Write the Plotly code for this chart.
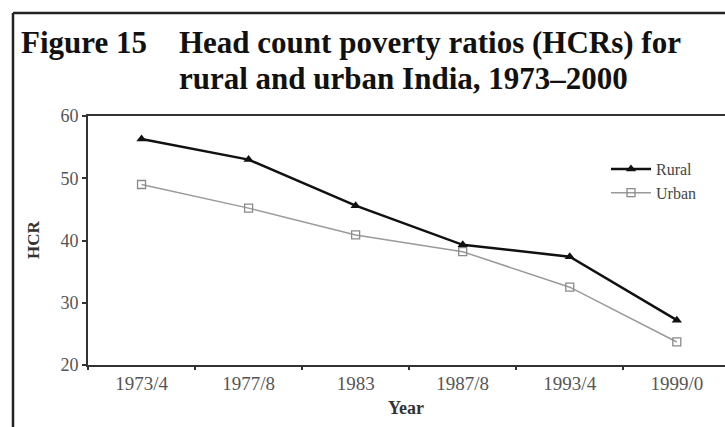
import plotly.graph_objects as go

years = ["1973/4", "1977/8", "1983", "1987/8", "1993/4", "1999/0"]
rural = [56.3, 53.0, 45.6, 39.3, 37.4, 27.2]
urban = [49.0, 45.2, 40.9, 38.2, 32.5, 23.7]
y_ticks = [20, 30, 40, 50, 60]

W, H = 725, 427
L, T, B, R = 88, 116, 62, 0
pw = W - L - R
ph = H - T - B

def px(x):
    return (x - L) / pw

def py(y):
    return (H - B - y) / ph

SERIF = "Liberation Serif, Times New Roman, serif"

fig = go.Figure()
fig.add_trace(go.Scatter(
    x=years, y=rural, name="Rural", mode="lines+markers",
    line=dict(color="#111111", width=2.5),
    marker=dict(symbol="triangle-up", size=9, color="#111111"),
))
fig.add_trace(go.Scatter(
    x=years, y=urban, name="Urban", mode="lines+markers",
    line=dict(color="#9a9a9a", width=1.5),
    marker=dict(symbol="square-open", size=8, color="#8a8a8a", line=dict(width=1.3)),
))

fig.update_layout(
    width=W, height=H,
    margin=dict(l=L, r=R, t=T, b=B),
    paper_bgcolor="white", plot_bgcolor="white",
    font=dict(family=SERIF, color="#444444"),
    showlegend=True,
    legend=dict(x=px(606), y=py(152), xanchor="left", yanchor="top",
                font=dict(size=16, color="#444444", family=SERIF),
                bgcolor="rgba(0,0,0,0)", tracegroupgap=0, itemwidth=40),
    xaxis=dict(type="category", range=[-0.5, 5.45], showgrid=False, zeroline=False,
               showline=True, linecolor="#333333", linewidth=2, mirror=True,
               ticks="outside", tickson="boundaries", ticklen=3, tickwidth=2, tickcolor="#333333",
               tickfont=dict(size=19, color="#555555", family=SERIF)),
    yaxis=dict(range=[20, 60], tickvals=y_ticks, showgrid=False, zeroline=False,
               showline=True, linecolor="#333333", linewidth=2,
               ticks="outside", ticklen=4, tickwidth=2, tickcolor="#333333",
               tickfont=dict(size=18, color="#555555", family=SERIF)),
)

anns = [
    dict(text="<b>Figure 15</b>", x=px(19), y=py(43), xanchor="left", yanchor="middle",
         font=dict(size=31, color="#111111", family=SERIF)),
    dict(text="<b>Head count poverty ratios (HCRs) for</b>", x=px(177), y=py(43), xanchor="left", yanchor="middle",
         font=dict(size=31, color="#111111", family=SERIF)),
    dict(text="<b>rural and urban India, 1973\u20132000</b>", x=px(177), y=py(78), xanchor="left", yanchor="middle",
         font=dict(size=31, color="#111111", family=SERIF)),
    dict(text="<b>HCR</b>", x=px(33), y=py(240), xanchor="center", yanchor="middle", textangle=-90,
         font=dict(size=17, color="#333333", family=SERIF)),
    dict(text="<b>Year</b>", x=px(406), y=py(408), xanchor="center", yanchor="middle",
         font=dict(size=18, color="#333333", family=SERIF)),
]
for a in anns:
    a.update(xref="paper", yref="paper", showarrow=False)
    fig.add_annotation(**a)

fig.add_shape(type="line", xref="paper", yref="paper", x0=px(13), x1=px(13), y0=py(440), y1=py(13),
              line=dict(color="#222222", width=2.5))
fig.add_shape(type="line", xref="paper", yref="paper", x0=px(13), x1=px(740), y0=py(13), y1=py(13),
              line=dict(color="#222222", width=2.5))

fig.write_html("out.html", config={"displayModeBar": False},
               post_script="document.body.style.margin='0';document.body.style.overflow='hidden';")
